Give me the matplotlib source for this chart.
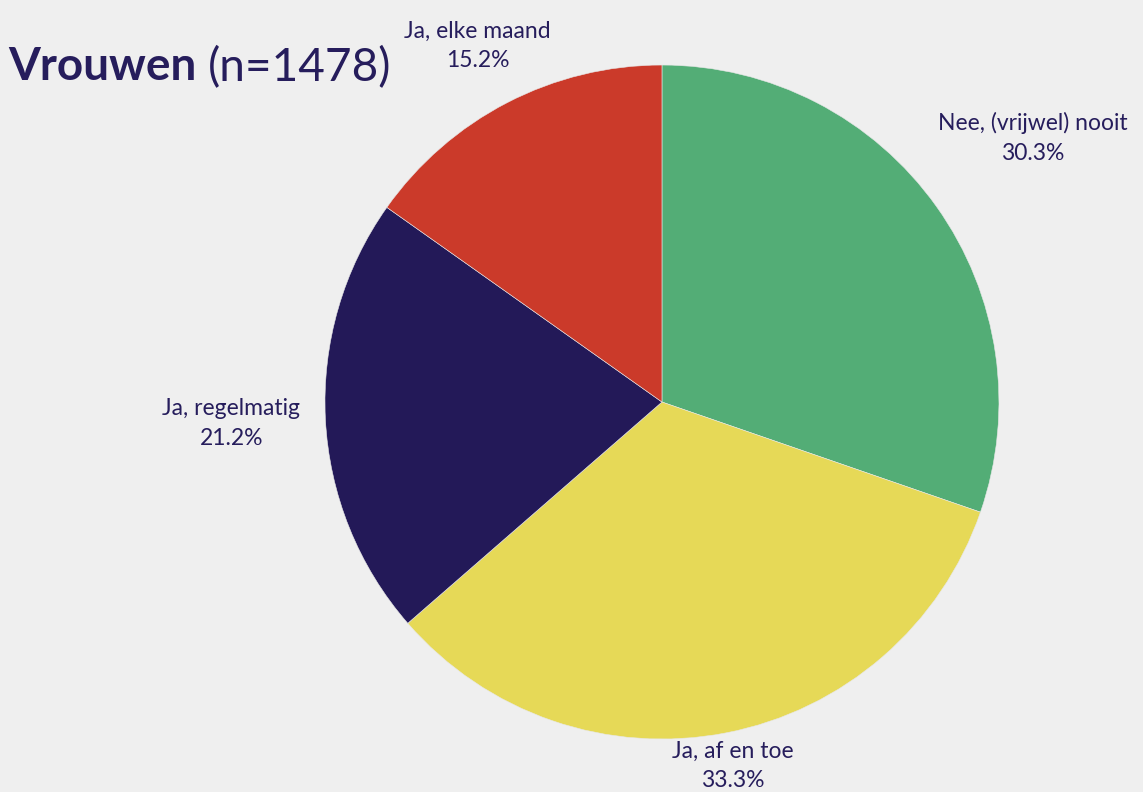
import matplotlib.pyplot as plt
import numpy as np

labels = ['Nee, (vrijwel) nooit', 'Ja, af en toe', 'Ja, regelmatig', 'Ja, elke maand']
values = [30.3, 33.3, 21.2, 15.2]
colors = ['#53ad76', '#e6d957', '#231958', '#cb3a2a']
label_dist = [1.35, 1.1, 1.28, 1.19]

text_color = '#261d5c'
bg = '#efefef'

plt.rcParams['font.family'] = ['Lato', 'DejaVu Sans']

fig = plt.figure(figsize=(11.43, 7.92), dpi=100)
fig.patch.set_facecolor(bg)

# pie fills this box (centre ~ (662, 402) px, radius ~337 px)
ax = fig.add_axes([0.2843, 0.0669, 0.5897, 0.8510])
ax.set_facecolor(bg)
wedges, _ = ax.pie(values, colors=colors, startangle=90, counterclock=False,
                   radius=1, wedgeprops=dict(linewidth=0.4, edgecolor='#e8e8e8'))
ax.set_xlim(-1, 1)
ax.set_ylim(-1, 1)
ax.set_aspect('equal')
ax.axis('off')

for w, lab, val, d in zip(wedges, labels, values, label_dist):
    ang = np.deg2rad((w.theta1 + w.theta2) / 2)
    ax.text(d * np.cos(ang), d * np.sin(ang), f'{lab}\n{val:.1f}%',
            ha='center', va='center', fontsize=16.5, color=text_color,
            linespacing=1.5, clip_on=False)

title = fig.text(0.007, 0.915, 'Vrouwen', fontsize=33, fontweight='bold',
                 color=text_color, ha='left', va='center')
fig.canvas.draw()
bb = title.get_window_extent().transformed(fig.transFigure.inverted())
fig.text(bb.x1 + 0.01, 0.915, '(n=1478)', fontsize=33,
         color=text_color, ha='left', va='center')

fig.savefig('out.png', dpi=100, facecolor=bg)
